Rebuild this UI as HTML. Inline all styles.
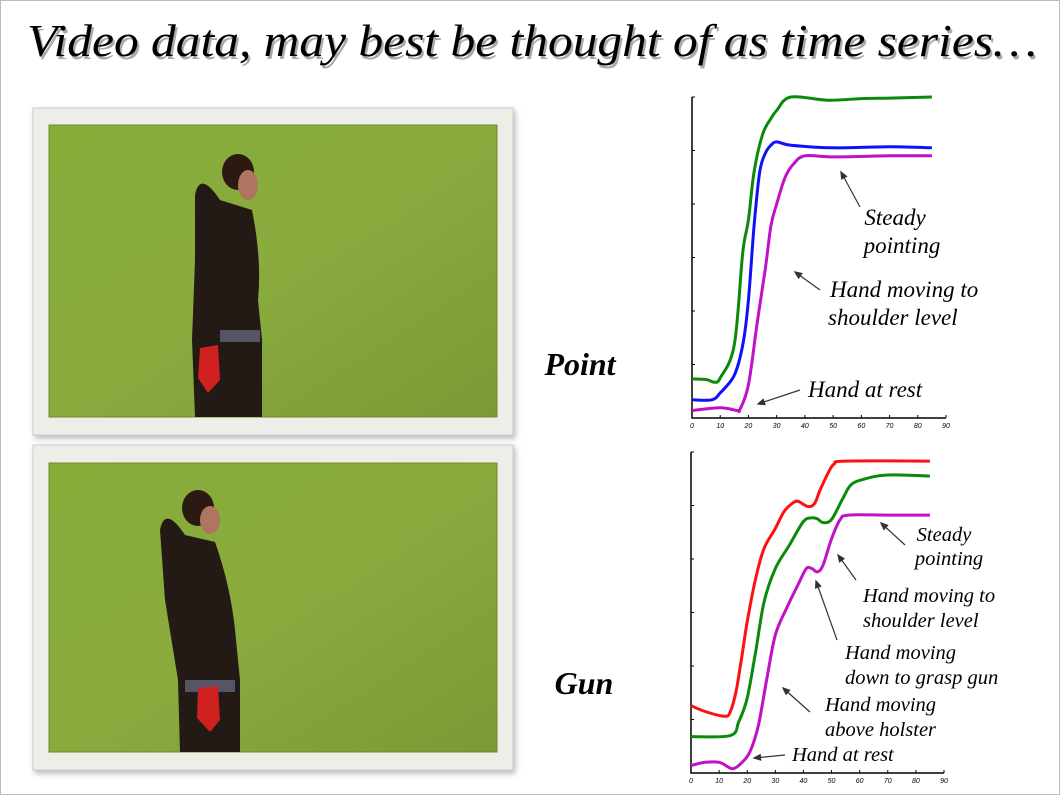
<!DOCTYPE html>
<html><head><meta charset="utf-8"><style>
body{margin:0;background:#fff}
svg{display:block}
.t{font-family:"Liberation Serif",serif;font-style:italic}
</style></head><body>
<svg id="s" width="1060" height="795" xmlns="http://www.w3.org/2000/svg">
<defs>
<linearGradient id="grn" x1="0" y1="0" x2="1" y2="1"><stop offset="0" stop-color="#86ad3a"/><stop offset="0.5" stop-color="#8aab3e"/><stop offset="1" stop-color="#7a9a34"/></linearGradient>
<filter id="sh" x="-5%" y="-5%" width="110%" height="110%"><feDropShadow dx="2" dy="3" stdDeviation="3" flood-color="#888" flood-opacity="0.6"/></filter>
</defs>
<rect x="0.5" y="0.5" width="1059" height="794" fill="#fff" stroke="#bbb"/>
<g>
<text class="t" x="532" y="56" font-size="46" text-anchor="middle" fill="#aaa" textLength="1010" lengthAdjust="spacingAndGlyphs" transform="translate(2,3)">Video data, may best be thought of as time series…</text>
<text class="t" x="532" y="56" font-size="46" text-anchor="middle" fill="#000" textLength="1010" lengthAdjust="spacingAndGlyphs">Video data, may best be thought of as time series…</text>
</g>
<g>
<rect x="33" y="108" width="480" height="327" fill="#eeeee8" stroke="#ccc" filter="url(#sh)"/>
<rect x="49" y="125" width="448" height="292" fill="url(#grn)" stroke="#6d8a2c"/>
<ellipse cx="238" cy="172" rx="16" ry="18" fill="#2a1a12"/>
<ellipse cx="248" cy="185" rx="10" ry="15" fill="#b07560"/>
<path d="M195 195 Q200 170 220 200 L252 210 Q262 260 258 300 L262 340 L262 417 L195 417 L192 340 L195 260 Z" fill="#231a16"/>
<rect x="220" y="330" width="40" height="12" fill="#556"/>
<path d="M200 348 L218 345 L220 380 L208 393 L198 378 Z" fill="#d02020"/>
</g>
<g>
<rect x="33" y="445" width="480" height="325" fill="#eeeee8" stroke="#ccc" filter="url(#sh)"/>
<rect x="49" y="463" width="448" height="289" fill="url(#grn)" stroke="#6d8a2c"/>
<ellipse cx="198" cy="508" rx="16" ry="18" fill="#2a1a12"/>
<ellipse cx="210" cy="520" rx="10" ry="14" fill="#b07560"/>
<path d="M160 530 Q165 505 185 535 L215 542 Q232 590 236 640 L240 680 L240 752 L180 752 L178 680 L165 600 Z" fill="#231a16"/>
<rect x="185" y="680" width="50" height="12" fill="#556"/>
<path d="M198 688 L218 686 L220 720 L210 732 L197 718 Z" fill="#d02020"/>
</g>
<text class="t" x="580" y="375" font-size="32" font-weight="bold" text-anchor="middle">Point</text>
<text class="t" x="584" y="694" font-size="32" font-weight="bold" text-anchor="middle">Gun</text>
<g id="c1"></g>
<g id="c2"></g>
<g class="t" font-size="23">
<text x="895" y="225" text-anchor="middle">Steady</text>
<text x="902" y="253" text-anchor="middle">pointing</text>
<text x="830" y="297">Hand moving to</text>
<text x="828" y="325">shoulder level</text>
<text x="808" y="397">Hand at rest</text>
</g>
<g class="t" font-size="20.5">
<text x="944" y="541" text-anchor="middle">Steady</text>
<text x="949" y="565" text-anchor="middle">pointing</text>
<text x="863" y="602">Hand moving to</text>
<text x="863" y="627">shoulder level</text>
<text x="845" y="659">Hand moving</text>
<text x="845" y="684">down to grasp gun</text>
<text x="825" y="711">Hand moving</text>
<text x="825" y="736">above holster</text>
<text x="792" y="761">Hand at rest</text>
</g>
<g id="arrows" stroke="#333" stroke-width="1.2" fill="#333"></g>
</svg>
<script>
const NS="http://www.w3.org/2000/svg";
const xTicks=[0,10,20,30,40,50,60,70,80,90];
const yTicks=[0,1,2,3,4,5,6];
const pointX=[0,5,8,10,15,18,20,22,25,28,30,35,48,60,70,85];
const pointGreen=[0.73,0.72,0.67,0.75,1.37,3.1,3.7,4.6,5.3,5.6,5.75,6.0,5.94,5.97,5.98,6.0];
const pointBlueX=[0,7,10,15,18,20,22,24,26,28,30,35,50,70,85];
const pointBlue=[0.34,0.34,0.47,0.8,1.37,2.2,3.6,4.6,4.95,5.1,5.16,5.1,5.05,5.07,5.05];
const pointMagX=[0,10,16,17,20,23,26,28,30,33,36,40,50,70,85];
const pointMag=[0.14,0.19,0.14,0.16,0.62,1.74,2.8,3.6,4.0,4.5,4.75,4.9,4.88,4.9,4.9];
const gunRedX=[0,5,12,14,16,18,20,23,26,30,33,36,38,40,42,44,46,49,51,55,85];
const gunRed=[1.26,1.15,1.06,1.15,1.52,2.15,2.83,3.64,4.2,4.57,4.88,5.04,5.08,5.02,4.98,5.04,5.3,5.63,5.78,5.83,5.83];
const gunGreenX=[0,14,17,20,23,26,30,35,40,43,45,47,50,54,57,62,70,85];
const gunGreen=[0.68,0.7,0.96,1.4,2.27,3.2,3.82,4.26,4.7,4.77,4.75,4.68,4.74,5.13,5.39,5.5,5.57,5.55];
const gunMagX=[0,5,10,13,15,18,21,24,27,30,34,38,41,43,45,47,50,53,56,70,85];
const gunMag=[0.14,0.2,0.2,0.12,0.08,0.19,0.4,0.9,1.77,2.58,3.08,3.51,3.82,3.82,3.76,3.89,4.38,4.73,4.82,4.82,4.82];

function smooth(pts){
  let d=`M${pts[0][0].toFixed(1)} ${pts[0][1].toFixed(1)}`;
  for(let i=0;i<pts.length-1;i++){
    const p0=pts[i-1]||pts[i],p1=pts[i],p2=pts[i+1],p3=pts[i+2]||p2;
    const c1=[p1[0]+(p2[0]-p0[0])/6,p1[1]+(p2[1]-p0[1])/6];
    const c2=[p2[0]-(p3[0]-p1[0])/6,p2[1]-(p3[1]-p1[1])/6];
    d+=` C${c1[0].toFixed(1)} ${c1[1].toFixed(1)} ${c2[0].toFixed(1)} ${c2[1].toFixed(1)} ${p2[0].toFixed(1)} ${p2[1].toFixed(1)}`;
  }
  return d;
}
function chart(g,x0,x1,yTop,yBot,series){
  const sx=v=>x0+(v/90)*(x1-x0), sy=v=>yBot-(v/6)*(yBot-yTop);
  const ax=document.createElementNS(NS,'path');
  ax.setAttribute('d',`M${x0} ${yTop} V${yBot} H${x1}`);ax.setAttribute('stroke','#000');ax.setAttribute('stroke-width','1.5');ax.setAttribute('fill','none');
  
  
  g.appendChild(ax);
  yTicks.forEach(t=>{const l=document.createElementNS(NS,'line');l.setAttribute('x1',x0);l.setAttribute('x2',x0+3);l.setAttribute('y1',sy(t));l.setAttribute('y2',sy(t));l.setAttribute('stroke','#000');
    
    
    g.appendChild(l);});
  xTicks.forEach(t=>{const l=document.createElementNS(NS,'line');l.setAttribute('x1',sx(t));l.setAttribute('x2',sx(t));l.setAttribute('y1',yBot);l.setAttribute('y2',yBot-3);l.setAttribute('stroke','#000');
    
    
    g.appendChild(l);
    const tx=document.createElementNS(NS,'text');tx.setAttribute('x',sx(t));tx.setAttribute('y',yBot+10);tx.setAttribute('font-size','7');tx.setAttribute('text-anchor','middle');tx.setAttribute('font-family','Liberation Sans,sans-serif');tx.setAttribute('font-style','italic');tx.textContent=t;
    
    
    g.appendChild(tx);});
  series.forEach(([xs,ys,c,n])=>{const p=document.createElementNS(NS,'path');
    p.setAttribute('d',smooth(xs.map((v,i)=>[sx(v),sy(ys[i])])));
    p.setAttribute('stroke',c);p.setAttribute('stroke-width','3');p.setAttribute('fill','none');p.setAttribute('stroke-linejoin','round');
    
    
    g.appendChild(p);});
}
chart(document.getElementById('c1'),692,946,97,418,[[pointX,pointGreen,'#0a8a0a','green-series'],[pointBlueX,pointBlue,'#1010ff','blue-series'],[pointMagX,pointMag,'#c010c8','magenta-series']]);
chart(document.getElementById('c2'),691,944,452,773,[[gunRedX,gunRed,'#ff1010','red-series'],[gunGreenX,gunGreen,'#0a8a0a','green-series'],[gunMagX,gunMag,'#c010c8','magenta-series']]);
const arrowList=[[860,207,841,172],[820,290,795,272],[800,390,758,404],[905,545,881,523],[856,580,838,555],[837,640,816,581],[810,712,783,688],[785,755,754,758]];
const ag=document.getElementById('arrows');
arrowList.forEach(([a,b,c,d])=>{const l=document.createElementNS(NS,'line');l.setAttribute('x1',a);l.setAttribute('y1',b);l.setAttribute('x2',c);l.setAttribute('y2',d);
  
  
  ag.appendChild(l);
  const ang=Math.atan2(d-b,c-a),s=7;
  const h=document.createElementNS(NS,'path');
  h.setAttribute('d',`M${c} ${d} L${c-s*Math.cos(ang-0.4)} ${d-s*Math.sin(ang-0.4)} L${c-s*Math.cos(ang+0.4)} ${d-s*Math.sin(ang+0.4)} Z`);
  
  
  ag.appendChild(h);});
</script>
</body></html>
